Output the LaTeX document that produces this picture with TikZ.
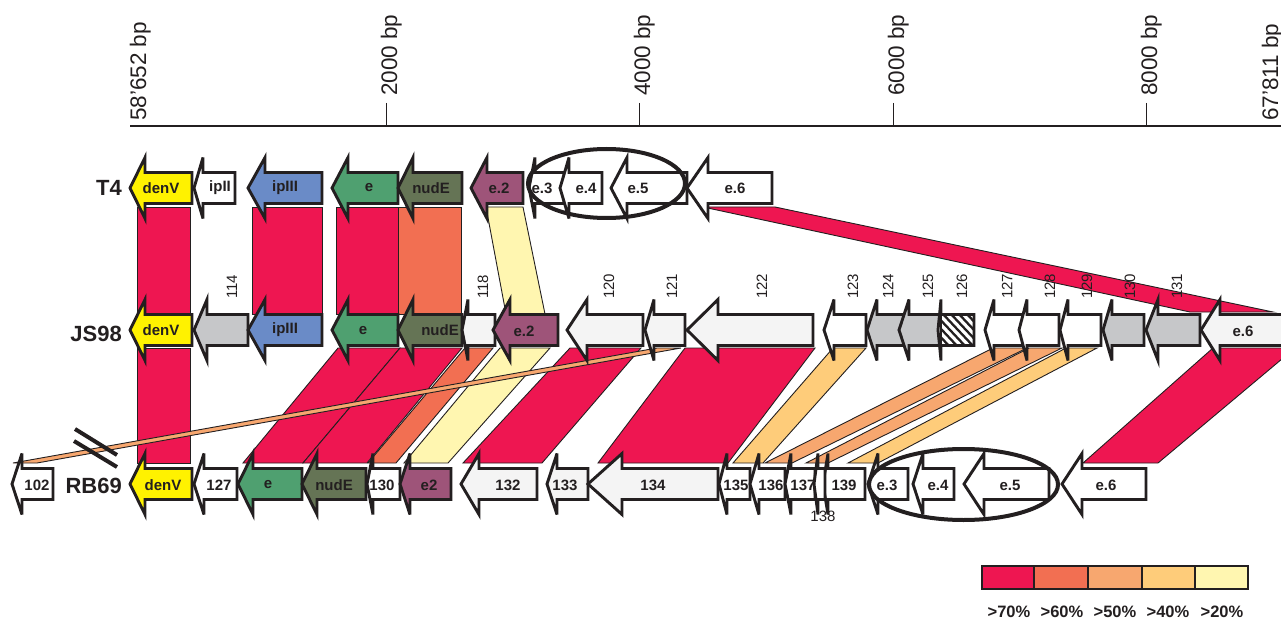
\documentclass[tikz,border=0pt]{standalone}
\usepackage{fontspec}
\setmainfont{Liberation Sans}
\definecolor{c70}{HTML}{EE1651}
\definecolor{c60}{HTML}{F26F52}
\definecolor{c50}{HTML}{F7A76F}
\definecolor{c40}{HTML}{FECC7A}
\definecolor{c20}{HTML}{FFF6B0}
\definecolor{gyel}{HTML}{FFF200}
\definecolor{gblue}{HTML}{6A8BC7}
\definecolor{ggreen}{HTML}{4FA070}
\definecolor{gdkgreen}{HTML}{657455}
\definecolor{gpurple}{HTML}{9E5479}
\definecolor{ggray}{HTML}{C6C7C9}
\definecolor{glight}{HTML}{F4F4F4}
\definecolor{ink}{HTML}{231F20}
\tikzset{
 garrow/.style={draw=ink, line width=2.9pt, line join=miter, miter limit=6},
 band/.style={draw=ink, line width=0.9pt, line join=miter},
 glab/.style={font=\fontsize{15}{16}\selectfont\bfseries, text=ink, inner sep=0pt},
 nlab/.style={font=\fontsize{15}{16}\selectfont, text=ink, rotate=90, anchor=west, inner sep=0pt},
 alab/.style={font=\fontsize{22.5}{23}\selectfont, text=ink, rotate=90, anchor=base west, inner sep=0pt},
 rlab/.style={font=\fontsize{22}{22}\selectfont\bfseries, text=ink, anchor=east, inner sep=0pt},
 leglab/.style={font=\fontsize{16.5}{17}\selectfont\bfseries, text=ink, inner sep=0pt},
 legbox/.style={draw=ink, line width=1.5pt},
}
\newcommand{\GArr}[5]{\draw[garrow, fill=#5] (#1,#4) -- (#2,#4-30.5) -- (#2,#4-15.5) -- (#3,#4-15.5) -- (#3,#4+15.5) -- (#2,#4+15.5) -- (#2,#4+30.5) -- cycle;}
\newcommand{\BandA}[5]{\draw[band,fill=#5] (#1,207) -- (#2,207) -- (#4,314) -- (#3,314) -- cycle;}
\newcommand{\BandB}[5]{\draw[band,fill=#5] (#1,348) -- (#2,348) -- (#4,463) -- (#3,463) -- cycle;}
\begin{document}
\begin{tikzpicture}[x=1pt,y=-1pt]
\useasboundingbox (0,0) rectangle (1281,620);
% axis
\draw[ink, line width=1.3pt] (130,126) -- (1281,126);
\foreach \t in {386,639,893,1146} \draw[ink, line width=1pt] (\t,103) -- (\t,126);
\node[alab] (a0) at (146,121) {58'652 bp};
\node[alab] (a1) at (397,96) {2000 bp};
\node[alab] (a2) at (650,96) {4000 bp};
\node[alab] (a3) at (904,96) {6000 bp};
\node[alab] (a4) at (1157,96) {8000 bp};
\node[alab] (a5) at (1278,121) {67'811 bp};
% bands T4 -> JS98
\BandA{137}{190}{137}{190}{c70}
\BandA{252}{322}{252}{322}{c70}
\BandA{336}{398}{336}{398}{c70}
\BandA{398}{461}{398}{461}{c60}
\BandA{486}{523}{506}{545}{c20}
\draw[band, fill=c70] (703,207) -- (775,207) -- (1273,312) -- (1190,312) -- cycle;
% bands JS98 -> RB69
\BandB{137}{190}{137}{190}{c70}
\BandB{338}{400}{243}{303}{c70}
\BandB{400}{462}{303}{367}{c70}
\BandB{465}{493}{368}{396}{c60}
\BandB{500}{550}{404}{448}{c20}
\BandB{570}{641}{463}{542}{c70}
\BandB{685}{815}{598}{728}{c70}
\BandB{833}{866}{733}{763}{c40}
\BandB{993}{1027}{765}{792}{c50}
\BandB{1029}{1062}{806}{828}{c50}
\BandB{1066}{1097}{848}{878}{c40}
\BandB{1213}{1295}{1083}{1158}{c70}
\draw[band, fill=c50] (657,348) -- (681,348) -- (37,463) -- (13,463) -- cycle;
\draw[ink, line width=4pt] (75,429) -- (117,455);
\draw[ink, line width=4pt] (74,441) -- (117,467);
% T4 row
\GArr{130}{145}{192}{188}{gyel}
\GArr{194}{203}{235}{188}{white}
\GArr{248}{265}{322}{188}{gblue}
\GArr{332}{348}{398}{188}{ggreen}
\GArr{398}{413}{462}{188}{gdkgreen}
\GArr{471}{487}{523}{188}{gpurple}
\GArr{529}{535}{564}{188}{white}
\GArr{560}{569}{602}{188}{white}
\GArr{611}{627}{687}{188}{white}
\GArr{687}{708}{772}{188}{white}
% JS98 row
\GArr{130}{145}{192}{330}{gyel}
\GArr{194}{207}{248}{330}{ggray}
\GArr{248}{265}{322}{330}{gblue}
\GArr{332}{348}{398}{330}{ggreen}
\GArr{398}{413}{462}{330}{gdkgreen}
\GArr{462}{468}{495}{330}{glight}
\GArr{493}{510}{558}{330}{gpurple}
\GArr{567}{587}{643}{330}{glight}
\GArr{645}{654}{685}{330}{glight}
\GArr{687}{718}{813}{330}{glight}
\GArr{824}{834}{866}{330}{white}
\GArr{867}{877}{905}{330}{ggray}
\GArr{899}{909}{940}{330}{ggray}
\GArr{938}{941}{974}{330}{white}
\begin{scope}
\clip (941,314.5) rectangle (974,345.5);
\foreach \k in {-40,-32,...,40} \draw[ink, line width=2.3pt] (941+\k,312) -- (975+\k,348);
\end{scope}
\draw[garrow] (941,314.5) rectangle (974,345.5);
\GArr{985}{994}{1027}{330}{white}
\GArr{1019}{1027}{1059}{330}{white}
\GArr{1060}{1068}{1101}{330}{white}
\GArr{1103}{1112}{1144}{330}{ggray}
\GArr{1146}{1158}{1200}{330}{ggray}
\GArr{1201}{1220}{1300}{330}{glight}
% RB69 row
\GArr{12}{22}{53}{484}{white}
\GArr{130}{145}{192}{484}{gyel}
\GArr{194}{204}{237}{484}{white}
\GArr{238}{253}{302}{484}{ggreen}
\GArr{302}{317}{366}{484}{gdkgreen}
\GArr{367}{373}{400}{484}{white}
\GArr{400}{410}{451}{484}{gpurple}
\GArr{461}{479}{537}{484}{glight}
\GArr{547}{557}{588}{484}{glight}
\GArr{588}{622}{718}{484}{glight}
\GArr{719}{727}{750}{484}{white}
\GArr{750}{759}{785}{484}{white}
\GArr{785}{791}{815}{484}{white}
\node[glab] (r137) at (803,485) {137};
\GArr{823}{828}{865}{484}{white}
\GArr{814}{818}{825}{484}{white}
\GArr{868}{878}{908}{484}{white}
\GArr{913}{923}{954}{484}{white}
\GArr{964}{984}{1049}{484}{white}
\GArr{1062}{1082}{1146}{484}{white}
% ellipses
\draw[ink, line width=4pt] (606.5,183.5) ellipse [x radius=78.5, y radius=34.5];
\draw[ink, line width=4pt] (963.5,484.5) ellipse [x radius=94.5, y radius=35.5];
% row labels
\node[rlab] (lT4) at (122,188) {T4};
\node[rlab] (lJS) at (122,334) {JS98};
\node[rlab] (lRB) at (122,486) {RB69};
% T4 labels
\node[glab] (t1) at (161,188) {denV};
\node[glab] (t2) at (220,188) {ipII};
\node[glab] (t3) at (285,188) {ipIII};
\node[glab] (t4) at (369,188) {e};
\node[glab] (t5) at (431,188) {nudE};
\node[glab] (t6) at (499,188) {e.2};
\node[glab] (t7) at (542,188) {e.3};
\node[glab] (t8) at (586,188) {e.4};
\node[glab] (t9) at (638,188) {e.5};
\node[glab] (t10) at (735,188) {e.6};
% JS98 labels
\node[glab] (j1) at (161,330) {denV};
\node[glab] (j2) at (285,330) {ipIII};
\node[glab] (j3) at (363,331) {e};
\node[glab] (j4) at (440,330) {nudE};
\node[glab] (j5) at (524,331) {e.2};
\node[glab] (j6) at (1243,331) {e.6};
\node[nlab] (n114) at (232,299) {114};
\node[nlab] (n118) at (483,299) {118};
\node[nlab] (n120) at (609,299) {120};
\node[nlab] (n121) at (672,299) {121};
\node[nlab] (n122) at (762,299) {122};
\node[nlab] (n123) at (853,299) {123};
\node[nlab] (n124) at (888,299) {124};
\node[nlab] (n125) at (928,299) {125};
\node[nlab] (n126) at (962,299) {126};
\node[nlab] (n127) at (1007,299) {127};
\node[nlab] (n128) at (1050,299) {128};
\node[nlab] (n129) at (1087,299) {129};
\node[nlab] (n130) at (1130,299) {130};
\node[nlab] (n131) at (1177,299) {131};
% RB69 labels
\node[glab] (r1) at (37,485) {102};
\node[glab] (r2) at (163,485) {denV};
\node[glab] (r3) at (219,485) {127};
\node[glab] (r4) at (268,485) {e};
\node[glab] (r5) at (334,485) {nudE};
\node[glab] (r6) at (382,485) {130};
\node[glab] (r7) at (429,485) {e2};
\node[glab] (r8) at (508,485) {132};
\node[glab] (r9) at (565,485) {133};
\node[glab] (r10) at (653,485) {134};
\node[glab] (r11) at (736,485) {135};
\node[glab] (r12) at (771,485) {136};
\node[glab] (r13) at (844,485) {139};
\node[font=\fontsize{15}{16}\selectfont, text=ink, inner sep=0pt] (r138) at (823,516) {138};
\node[glab] (r14) at (887,485) {e.3};
\node[glab] (r15) at (938,485) {e.4};
\node[glab] (r16) at (1010,485) {e.5};
\node[glab] (r17) at (1106,485) {e.6};
% legend
\draw[legbox, fill=c70] (982,566) rectangle (1034,589);
\draw[legbox, fill=c60] (1034,566) rectangle (1088,589);
\draw[legbox, fill=c50] (1088,566) rectangle (1142,589);
\draw[legbox, fill=c40] (1142,566) rectangle (1195,589);
\draw[legbox, fill=c20] (1195,566) rectangle (1248,589);
\node[leglab] (g1) at (1009,612) {>70\%};
\node[leglab] (g2) at (1062,612) {>60\%};
\node[leglab] (g3) at (1115,612) {>50\%};
\node[leglab] (g4) at (1168,612) {>40\%};
\node[leglab] (g5) at (1222,612) {>20\%};
\end{tikzpicture}
\end{document}
